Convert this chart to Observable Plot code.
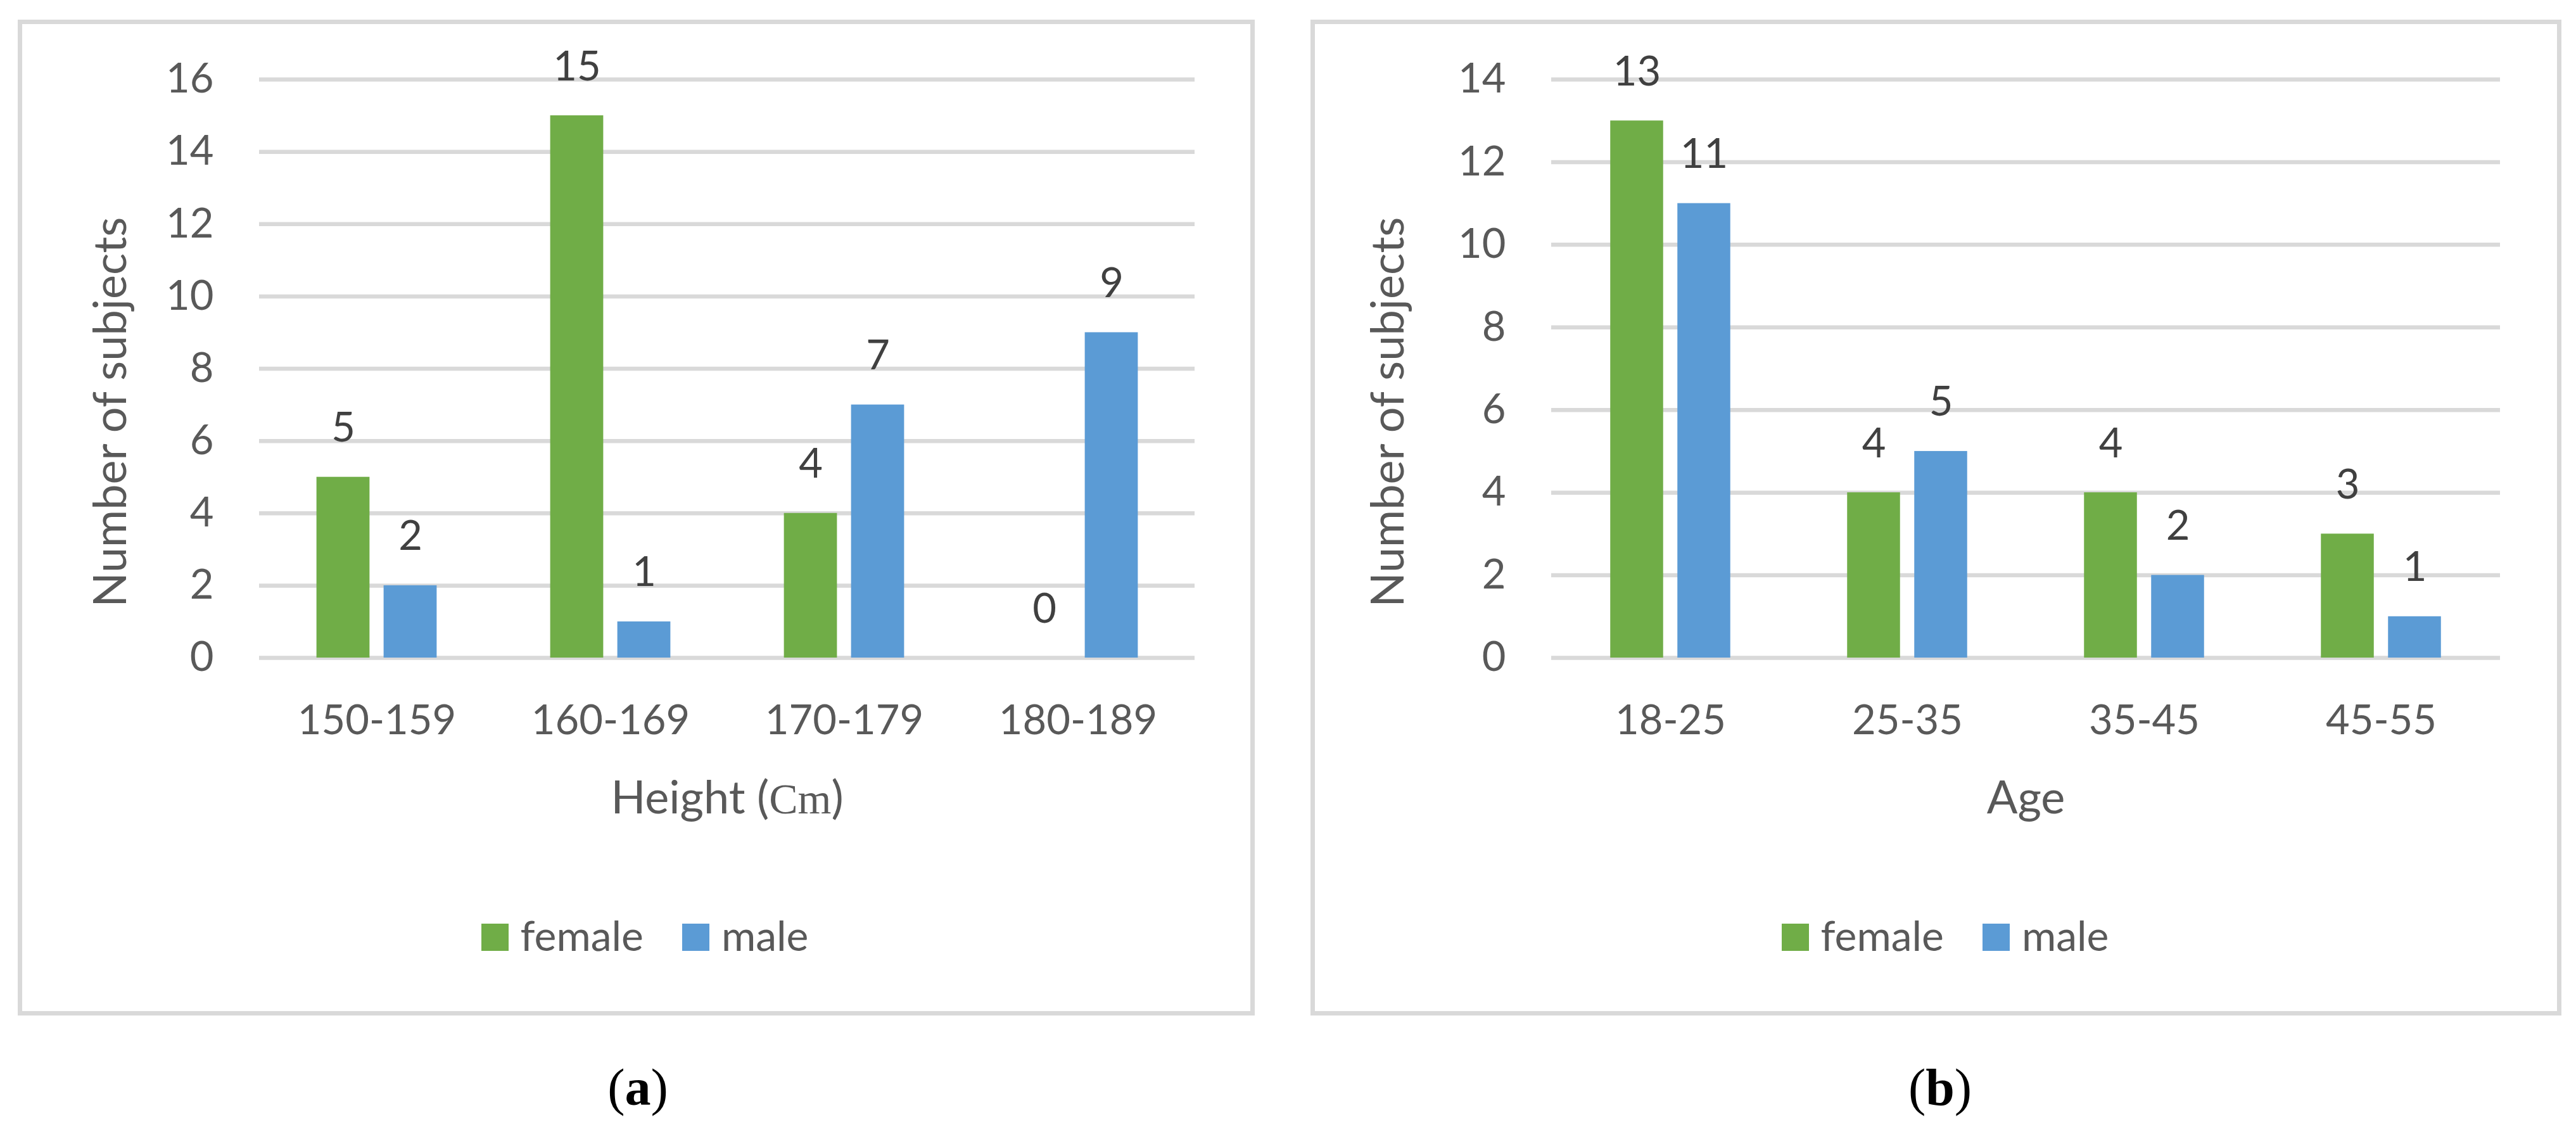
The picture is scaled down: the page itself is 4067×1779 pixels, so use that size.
<!DOCTYPE html>
<html><head><meta charset="utf-8">
<script src="https://cdn.jsdelivr.net/npm/d3@7"></script>
<script src="https://cdn.jsdelivr.net/npm/@observablehq/plot@0.6"></script>
<style>
html,body{margin:0;padding:0;background:#fff;}
#page{position:relative;width:4067px;height:1779px;overflow:hidden;font-family:Lato,sans-serif;background:#fff;}
.panel{position:absolute;box-sizing:border-box;border:7px solid #d9d9d9;}
.legend{position:absolute;display:flex;justify-content:center;align-items:flex-start;font-size:66px;color:#595959;line-height:1;width:1000px;white-space:nowrap;}
.item{display:flex;align-items:flex-start;}
.item + .item{margin-left:61px;}
.sw{display:inline-block;width:43px;height:43px;margin-right:19px;margin-top:15.5px;}
.cap{position:absolute;font-family:"Liberation Serif","Times New Roman",serif;font-size:82px;color:#000;text-align:center;line-height:1;width:400px;}
</style></head>
<body><div id="page"></div>
<script>
// ---- data ----
const heightCats = ["150-159", "160-169", "170-179", "180-189"];
const heightFemale = [5, 15, 4, 0];
const heightMale = [2, 1, 7, 9];
const heightTicks = [0, 2, 4, 6, 8, 10, 12, 14, 16];

const ageCats = ["18-25", "25-35", "35-45", "45-55"];
const ageFemale = [13, 4, 4, 3];
const ageMale = [11, 5, 2, 1];
const ageTicks = [0, 2, 4, 6, 8, 10, 12, 14];

const seriesNames = ["female", "male"];
const seriesColors = ["#70AD47", "#5B9BD5"];

const yTitle = "Number of subjects";
const xTitleA = "Height (Cm)";
const xTitleB = "Age";
const captions = ["a", "b"];

// ---- rendering ----
const page = document.getElementById("page");

function makePanel(cfg) {
  const {cats, female, male, ticks, xTitle, svgLeft, width, height, mL, mR, mT, mB, yDx, yDy} = cfg;
  const rows = [];
  cats.forEach((c, i) => {
    rows.push({cat: c, sex: seriesNames[0], value: female[i]});
    rows.push({cat: c, sex: seriesNames[1], value: male[i]});
  });
  const bw = (width - mL - mR) / cats.length;
  const barW = 84, off = 53;
  const fRows = rows.filter(d => d.sex === seriesNames[0]);
  const mRows = rows.filter(d => d.sex === seriesNames[1]);
  const txt = {fill: "#595959"};
  const svg = Plot.plot({
    width, height,
    marginLeft: mL, marginRight: mR, marginTop: mT, marginBottom: mB,
    style: `position:absolute;left:${svgLeft}px;top:0px;background:transparent;max-width:none;overflow:visible;font-family:Lato,sans-serif;`,
    x: {type: "band", domain: cats, padding: 0},
    y: {domain: [0, d3.max(ticks)], nice: false},
    marks: [
      Plot.ruleY(ticks, {stroke: "#d9d9d9", strokeWidth: 6.5}),
      Plot.barY(fRows, {x: "cat", y: "value", fill: seriesColors[0],
        insetLeft: bw / 2 - barW / 2 - off, insetRight: bw / 2 - barW / 2 + off}),
      Plot.barY(mRows, {x: "cat", y: "value", fill: seriesColors[1],
        insetLeft: bw / 2 - barW / 2 + off, insetRight: bw / 2 - barW / 2 - off}),
      Plot.text(fRows, {x: "cat", y: "value", text: d => String(d.value), dx: -off, dy: -56,
        lineAnchor: "bottom", fontSize: 65, fill: "#404040"}),
      Plot.text(mRows, {x: "cat", y: "value", text: d => String(d.value), dx: off, dy: -56,
        lineAnchor: "bottom", fontSize: 65, fill: "#404040"}),
      Plot.axisY({ticks, tickSize: 0, tickPadding: 72, fontSize: 65, label: null, tickFormat: d => String(d), ...txt}),
      Plot.axisX({tickSize: 0, tickPadding: 74, fontSize: 65, label: null, ...txt}),
      Plot.text([xTitle], {frameAnchor: "bottom", text: d => d, textAnchor: "middle", lineAnchor: "bottom", dy: 245, fontSize: 72, ...txt}),
      Plot.text([yTitle], {frameAnchor: "left", text: d => d, textAnchor: "middle", lineAnchor: "middle", rotate: -90, dx: yDx, dy: yDy, fontSize: 72, ...txt})
    ]
  });
  // serif "Cm" as in the original
  svg.querySelectorAll("text").forEach(t => {
    if (t.textContent === "Height (Cm)") {
      t.textContent = "";
      t.appendChild(document.createTextNode("Height ("));
      const ts = document.createElementNS("http://www.w3.org/2000/svg", "tspan");
      ts.setAttribute("font-family", "Liberation Serif, serif");
      ts.setAttribute("font-size", "68");
      ts.textContent = "Cm";
      t.appendChild(ts);
      t.appendChild(document.createTextNode(")"));
    }
  });
  return svg;
}

function addBox(left, top, w, h) {
  const d = document.createElement("div");
  d.className = "panel";
  Object.assign(d.style, {left: left + "px", top: top + "px", width: w + "px", height: h + "px"});
  page.appendChild(d);
}

function addLegend(center, top) {
  const lg = document.createElement("div");
  lg.className = "legend";
  lg.style.left = (center - 500) + "px";
  lg.style.top = top + "px";
  seriesNames.forEach((n, i) => {
    const it = document.createElement("div");
    it.className = "item";
    const sw = document.createElement("span");
    sw.className = "sw";
    sw.style.background = seriesColors[i];
    const lb = document.createElement("span");
    lb.textContent = n;
    it.appendChild(sw); it.appendChild(lb);
    lg.appendChild(it);
  });
  page.appendChild(lg);
}

function addCaption(letter, center, top) {
  const c = document.createElement("div");
  c.className = "cap";
  c.style.left = (center - 200) + "px";
  c.style.top = top + "px";
  c.appendChild(document.createTextNode("("));
  const b = document.createElement("b");
  b.textContent = letter;
  c.appendChild(b);
  c.appendChild(document.createTextNode(")"));
  page.appendChild(c);
}

addBox(28, 31, 1953, 1572);
addBox(2069, 31, 1975, 1572);

page.appendChild(makePanel({
  cats: heightCats, female: heightFemale, male: heightMale, ticks: heightTicks, xTitle: xTitleA,
  svgLeft: 0, width: 2030, height: 1330, mL: 409, mR: 144, mT: 125, mB: 292, yDx: -234, yDy: 68.5
}));
page.appendChild(makePanel({
  cats: ageCats, female: ageFemale, male: ageMale, ticks: ageTicks, xTitle: xTitleB,
  svgLeft: 2050, width: 2017, height: 1330, mL: 399, mR: 120, mT: 125, mB: 292, yDx: -257, yDy: 68.5
}));

addLegend(1018, 1442.5);
addLegend(3071, 1442.5);
addCaption(captions[0], 1007, 1676);
addCaption(captions[1], 3063, 1676);
</script>
</body></html>
